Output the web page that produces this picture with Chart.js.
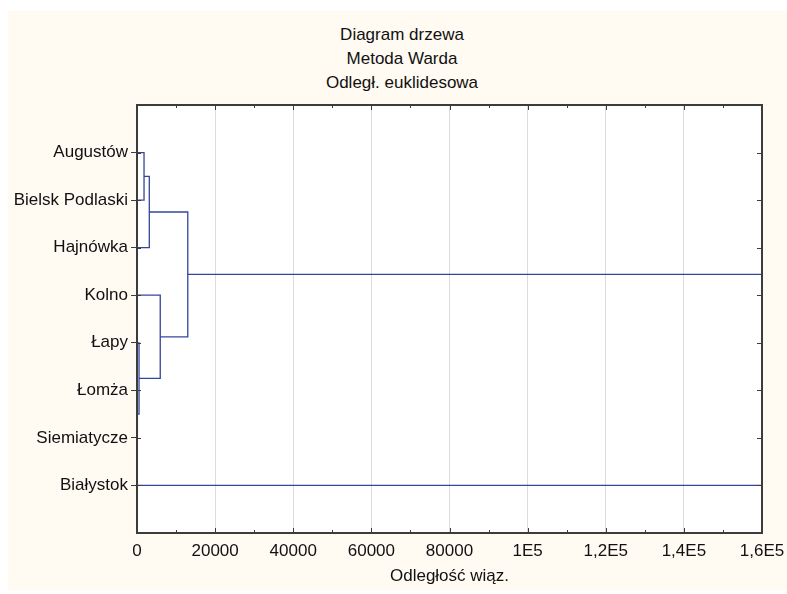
<!DOCTYPE html>
<html>
<head>
<meta charset="utf-8">
<script src="https://cdn.jsdelivr.net/npm/chart.js@4/dist/chart.umd.min.js"></script>
<style>
  html, body { margin: 0; padding: 0; background: #ffffff; }
  #frame { position: absolute; left: 8px; top: 11px; width: 779px; height: 579px; background: #fffaf2; }
  #titles { position: absolute; left: 202px; top: 23px; width: 400px; text-align: center;
            font: 17px "Liberation Sans", Arial, sans-serif; color: #111; line-height: 24px; }
  #wrap { position: absolute; left: 0; top: 0; width: 787px; height: 594px; }
</style>
</head>
<body>
<div id="frame"></div>
<div id="titles">
  <div>Diagram drzewa</div>
  <div>Metoda Warda</div>
  <div>Odległ. euklidesowa</div>
</div>
<div id="wrap"><canvas id="treeChart" width="787" height="594"></canvas></div>
<script>
// leaves in dendrogram order (top to bottom)
const leaves = ['Augustów', 'Bielsk Podlaski', 'Hajnówka', 'Kolno', 'Łapy', 'Łomża', 'Siemiatycze', 'Białystok'];

// linkage: merge k joins nodes mergeA[k] and mergeB[k] into node leaves.length + k
const mergeA = [0, 5, 4, 8, 3, 11, 13];
const mergeB = [1, 6, 9, 2, 10, 12, 7];
const mergeHeight = [1800, 150, 520, 3150, 5950, 13000, 200000];

const xTickLabels = ['0', '20000', '40000', '60000', '80000', '1E5', '1,2E5', '1,4E5', '1,6E5'];
const xMax = 160000;

document.addEventListener('DOMContentLoaded', function() {
  // node positions: leaves at 1..n, clusters at the mean of their children
  const nodeY = leaves.map((_, i) => i + 1);
  const nodeH = leaves.map(() => 0);
  const links = [];
  mergeA.forEach((a, k) => {
    const b = mergeB[k];
    const h = mergeHeight[k];
    links.push([
      { x: nodeH[a], y: nodeY[a] },
      { x: h, y: nodeY[a] },
      { x: h, y: nodeY[b] },
      { x: nodeH[b], y: nodeY[b] }
    ]);
    nodeY.push((nodeY[a] + nodeY[b]) / 2);
    nodeH.push(h);
  });

  const lineColor = '#34459c';
  const axisColor = '#3c3c3c';
  const font = { family: '"Liberation Sans", Arial, sans-serif', size: 17 };

  // white plot background, frame and inward tick marks
  const framePlugin = {
    id: 'framePlugin',
    beforeDraw(chart) {
      const a = chart.chartArea;
      const ctx = chart.ctx;
      ctx.save();
      ctx.fillStyle = '#ffffff';
      ctx.fillRect(a.left, a.top, a.right - a.left, a.bottom - a.top);
      ctx.restore();
    },
    afterDraw(chart) {
      const a = chart.chartArea;
      const ctx = chart.ctx;
      const xs = chart.scales.x;
      const ys = chart.scales.y;
      ctx.save();
      ctx.strokeStyle = axisColor;
      ctx.lineWidth = 1;
      ctx.beginPath();
      xs.ticks.forEach(t => {
        const px = Math.round(xs.getPixelForValue(t.value)) + 0.5;
        const len = t.value % 20000 === 0 ? 5 : 3;
        ctx.moveTo(px, a.top); ctx.lineTo(px, a.top + len);
        ctx.moveTo(px, a.bottom); ctx.lineTo(px, a.bottom - len);
      });
      ys.ticks.forEach(t => {
        const py = Math.round(ys.getPixelForValue(t.value)) + 0.5;
        ctx.moveTo(a.right, py); ctx.lineTo(a.right - 5, py);
        ctx.moveTo(a.left, py); ctx.lineTo(a.left + 4, py);
      });
      ctx.stroke();
      ctx.lineWidth = 2;
      ctx.strokeRect(a.left, a.top, a.right - a.left, a.bottom - a.top);
      ctx.restore();
    }
  };

  const treeCtx = document.getElementById('treeChart').getContext('2d');
  const treeChart = new Chart(treeCtx, {
    type: 'scatter',
    data: {
      datasets: links.map(pts => ({
        data: pts,
        showLine: true,
        borderColor: lineColor,
        borderWidth: 1.3,
        pointRadius: 0,
        tension: 0
      }))
    },
    options: {
      responsive: false,
      animation: false,
      layout: { padding: { left: 0, right: 25, top: 105, bottom: 4 } },
      plugins: {
        legend: { display: false },
        tooltip: { enabled: false }
      },
      scales: {
        x: {
          type: 'linear',
          min: 0,
          max: xMax,
          border: { display: false },
          afterFit: scale => {
            scale.height = 57;
            scale.paddingLeft = 0;
            scale.paddingRight = 0;
          },
          grid: {
            drawTicks: false,
            color: ctx => (ctx.tick && ctx.tick.value % 20000 === 0 && ctx.tick.value > 0 && ctx.tick.value < xMax) ? '#dcdcdc' : 'rgba(0,0,0,0)'
          },
          ticks: {
            stepSize: 10000,
            autoSkip: false,
            maxRotation: 0,
            padding: 8,
            color: '#111',
            font: font,
            callback: value => value % 20000 === 0 ? xTickLabels[value / 20000] : ''
          },
          title: {
            display: true,
            text: 'Odległość wiąz.',
            color: '#111',
            font: font,
            padding: { top: 5, bottom: 3 }
          }
        },
        y: {
          type: 'linear',
          min: 0,
          max: leaves.length + 1,
          reverse: true,
          border: { display: false },
          afterBuildTicks: scale => {
            scale.ticks = leaves.map((_, i) => ({ value: i + 1 }));
          },
          afterFit: scale => {
            scale.width = 137;
            scale.paddingTop = 0;
            scale.paddingBottom = 0;
          },
          grid: {
            drawOnChartArea: false,
            tickLength: 6,
            tickColor: axisColor
          },
          ticks: {
            padding: 3,
            color: '#111',
            font: font,
            callback: value => leaves[value - 1]
          }
        }
      }
    },
    plugins: [framePlugin]
  });
});
</script>
</body>
</html>
